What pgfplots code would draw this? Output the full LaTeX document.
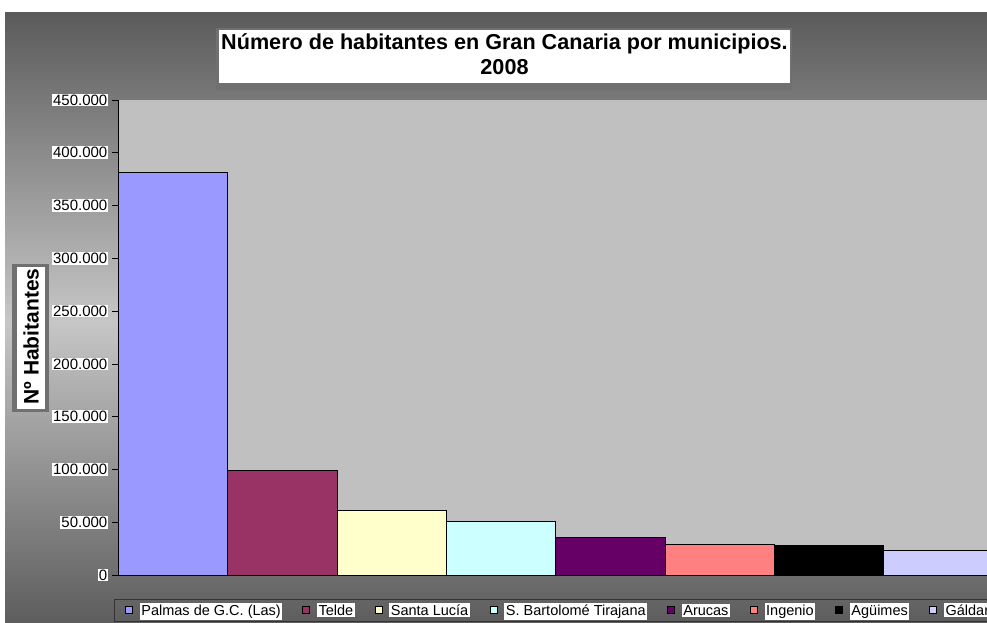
\documentclass[border=0pt]{standalone}
\usepackage{fontspec}
\setmainfont{Liberation Sans}
\usepackage{pgfplots}
\pgfplotsset{compat=1.18}
\definecolor{cA}{HTML}{9999FF}
\definecolor{cB}{HTML}{993366}
\definecolor{cC}{HTML}{FFFFCC}
\definecolor{cD}{HTML}{CCFFFF}
\definecolor{cE}{HTML}{660066}
\definecolor{cF}{HTML}{FF8080}
\definecolor{cG}{HTML}{000000}
\definecolor{cH}{HTML}{CCCCFF}
\definecolor{plotbg}{HTML}{C0C0C0}
\definecolor{bgdark}{HTML}{5A5A5A}
\definecolor{bglight}{HTML}{C6C6C6}
\definecolor{frame}{HTML}{707070}
\setlength{\fboxsep}{1.5pt}

\pgfplotsset{
  bb/.style={ybar, bar width=1, bar shift=0pt, draw=black, line width=0.7pt,
    legend image code/.code={\draw[##1,draw=black,line width=0.7pt] (0pt,-3.5pt) rectangle (7pt,3.5pt);}},
}

\begin{document}
\begin{tikzpicture}[x=1pt,y=1pt]
\path[use as bounding box] (0,0) rectangle (987,622);
\clip (0,0) rectangle (987,622);
\fill[white] (0,0) rectangle (987,622);
% background: dark at top and bottom, light in the middle
\foreach \i in {0,...,152} {
  \pgfmathsetmacro\yt{610-4*\i}
  \pgfmathsetmacro\p{max(0,100*(1-abs(\yt-2-300)/310))}
  \fill[bglight!\p!bgdark] (5,\yt-4.3) rectangle (1000,\yt);
}

% title box
\fill[frame] (216,532) rectangle (792,594);
\fill[white] (219,539) rectangle (790,592);
\node[font=\bfseries\fontsize{21.6}{25}\selectfont, anchor=base, inner sep=0] at (504.5,572) {Número de habitantes en Gran Canaria por municipios.};
\node[font=\bfseries\fontsize{21.6}{25}\selectfont, anchor=base, inner sep=0] at (504.5,547) {2008};

% y label box
\fill[frame] (12,210) rectangle (49,358);
\fill[white] (17,213) rectangle (45,355);
\node[rotate=90, font=\bfseries\fontsize{21}{25}\selectfont, inner sep=0] at (31,285.5) {Nº Habitantes};

\begin{axis}[
  at={(118.5pt,47pt)}, anchor=south west, scale only axis,
  width=874.4pt, height=475pt,
  xmin=-0.5, xmax=7.5, ymin=0, ymax=450000,
  axis x line*=bottom, axis y line*=left,
  axis line style={-, black, line width=0.8pt},
  axis background/.style={fill=plotbg},
  xtick=\empty,
  ytick={0,50000,...,450000},
  scaled y ticks=false,
  /pgf/number format/fixed,
  /pgf/number format/1000 sep={.},
  /pgf/number format/assume math mode=true,
  yticklabel style={fill=white, inner sep=1pt, xshift=-4pt, text=black, font=\fontsize{15}{17}\selectfont},
  tick align=outside, major tick length=6pt,
  tick style={black, line width=0.6pt},
  legend columns=-1,
  legend style={at={(0,0)}, anchor=north west, xshift=-4.5pt, yshift=-24pt,
    draw=black!80, fill=none, inner xsep=11pt, inner ysep=4pt,
    font=\fontsize{14.5}{17}\selectfont, column sep=7pt,
    nodes={inner sep=0pt},
    /tikz/every even column/.append style={column sep=20pt}},
]
\addplot[bb, fill=cA] coordinates {(0,381100)};
\addlegendentry{\colorbox{white}{Palmas de G.C. (Las)}}
\addplot[bb, fill=cB] coordinates {(1,99200)};
\addlegendentry{\colorbox{white}{Telde}}
\addplot[bb, fill=cC] coordinates {(2,60900)};
\addlegendentry{\colorbox{white}{Santa Lucía}}
\addplot[bb, fill=cD] coordinates {(3,51200)};
\addlegendentry{\colorbox{white}{S. Bartolomé Tirajana}}
\addplot[bb, fill=cE] coordinates {(4,35700)};
\addlegendentry{\colorbox{white}{Arucas}}
\addplot[bb, fill=cF] coordinates {(5,29100)};
\addlegendentry{\colorbox{white}{Ingenio}}
\addplot[bb, fill=cG] coordinates {(6,28400)};
\addlegendentry{\colorbox{white}{Agüimes}}
\addplot[bb, fill=cH] coordinates {(7,23700)};
\addlegendentry{\colorbox{white}{Gáldar}}
\end{axis}
\end{tikzpicture}
\end{document}
